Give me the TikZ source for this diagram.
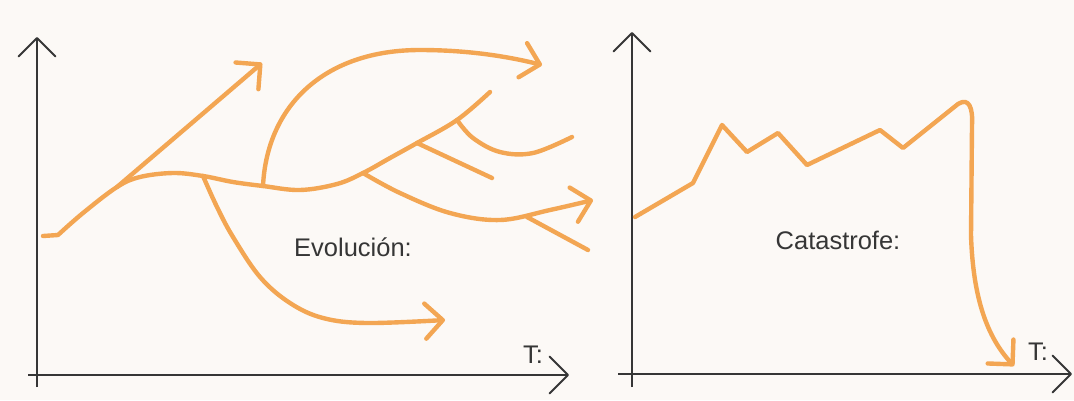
\documentclass[tikz,border=0pt]{standalone}
\usepackage{fontspec}
\setmainfont{Liberation Sans}
\usepackage{tikz}
\usetikzlibrary{arrows.meta}
\definecolor{paper}{HTML}{FCF9F6}
\definecolor{path}{HTML}{F3A653}
\definecolor{ink}{HTML}{363636}
\tikzset{
  axis/.style={ink,line width=1.1pt,-{Straight Barb[length=10.5pt,width=21pt,round]}},
  trail/.style={path,line width=2.5pt,line cap=round,line join=round},
  barb/.style={-{Straight Barb[length=10pt,width=20pt,round]}},
  tag/.style={text=ink,font=\fontsize{14.5}{17}\selectfont,inner sep=0pt}
}

\begin{document}
\begin{tikzpicture}[x=0.02cm,y=-0.02cm]
  \fill[paper] (0,0) rectangle (1074,400);
  \useasboundingbox (0,0) rectangle (1074,400);
  % left: Evolucion
  \coordinate (y1) at (37,387); \coordinate (y1top) at (37,37);
  \coordinate (x1) at (28,375); \coordinate (x1end) at (569,375);
  \draw[axis] (y1) -- (y1top);
  \draw[axis] (x1) -- (x1end);
  \node[tag] (t1) at (533,355) {T:};
  \node[tag] (evo) at (353,247) {Evolución:};
  \coordinate (fork) at (117,187); \coordinate (drop) at (203,176);
  \coordinate (rise) at (263,186); \coordinate (split) at (363,173);
  \coordinate (twig) at (417,143); \coordinate (curl) at (457,120);
  \draw[trail] (43,236) -- plot[smooth,tension=0.6] coordinates {(58,235) (83,213) (fork) (140,177) (173,173) (drop) (233,182) (rise) (300,190) (337,184) (split) (390,158) (twig) (curl) (490,92)};
  \draw[trail,barb] (fork) -- (262,63);
  \draw[trail,barb] plot[smooth,tension=0.6] coordinates {(drop) (217,207) (233,237) (260,277) (290,303) (323,318) (367,323) (445,320)};
  \draw[trail,barb] (rise) .. controls (267,105) and (325,50) .. (420,50) .. controls (470,50) and (510,57) .. (542,65);
  \draw[trail] (twig) -- (492,178);
  \draw[trail] plot[smooth,tension=0.6] coordinates {(curl) (473,138) (500,152) (533,153) (572,137)};
  \draw[trail,barb] plot[smooth,tension=0.6] coordinates {(split) (400,193) (450,213) (500,220) (550,210) (593,200)};
  \draw[trail] (527,217) -- (588,250);
  % right: Catastrofe
  \coordinate (y2) at (632,387); \coordinate (y2top) at (632,32);
  \coordinate (x2) at (618,374); \coordinate (x2end) at (1072,374);
  \draw[axis] (y2) -- (y2top);
  \draw[axis] (x2) -- (x2end);
  \node[tag] (t2) at (1038,352) {T:};
  \node[tag] (cat) at (838,240) {Catastrofe:};
  \draw[trail,barb] (635,217) -- (693,183) -- (722,125) -- (747,152) -- (778,133) -- (807,165) -- (880,130) -- (903,148) -- (958,104)
    .. controls (969,97) and (973,108) .. (972,125) -- (971,235)
    .. controls (973,300) and (988,338) .. (1014,366);
\end{tikzpicture}
\end{document}
